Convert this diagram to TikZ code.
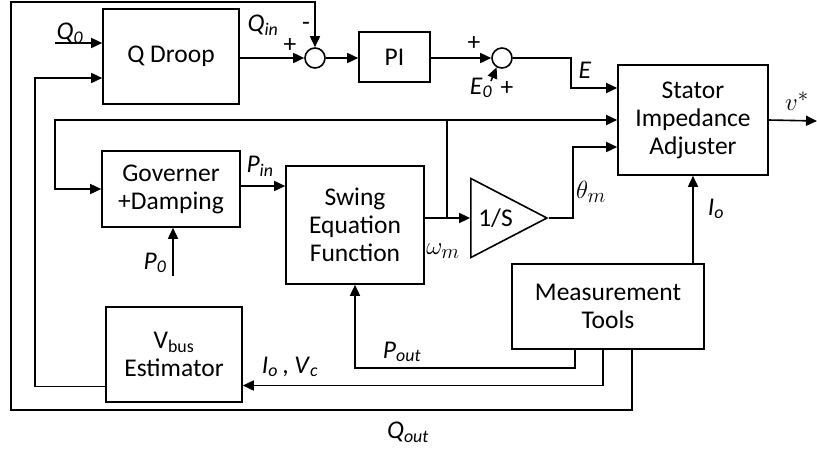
\documentclass[tikz,border=0pt]{standalone}
\usepackage{fontspec}
\setmainfont{Carlito}
\usetikzlibrary{arrows.meta, shapes.geometric}
\newcommand{\sig}[2]{\textit{#1}\textsubscript{\textit{#2}}}
\tikzset{
  block/.style={draw, line width=1.6pt, align=center, inner sep=2pt},
  sumpt/.style={draw, circle, line width=1.6pt, minimum size=20pt, inner sep=0pt},
  wire/.style={line width=1.6pt},
  arr/.style={line width=1.6pt, -{Triangle[length=11pt, width=10pt]}},
  lbl/.style={inner sep=0pt},
  mlbl/.style={inner sep=0pt, font=\fontsize{30}{34}\selectfont}
}

\begin{document}
\begin{tikzpicture}[x=1pt, y=-1pt, font=\fontsize{25.5}{28}\selectfont]
    \useasboundingbox (0,0) rectangle (817,448);
    \node[block, minimum width=136pt, minimum height=95pt] (qdroop) at (171,56.5) {Q Droop};
    \node[block, minimum width=71pt, minimum height=50pt] (pi) at (394.5,57) {PI};
    \node[sumpt] (sum1) at (315,58) {};
    \node[sumpt] (sum2) at (502,58) {};
    \node[block, minimum width=150pt, minimum height=110pt] (stator) at (693,120) {Stator\\Impedance\\Adjuster};
    \node[block, minimum width=138pt, minimum height=76pt] (gov) at (171,189) {Governer\\+Damping};
    \node[block, minimum width=138pt, minimum height=118pt] (swing) at (355,225) {Swing\\Equation\\Function};
    \node[draw, line width=1.6pt, isosceles triangle, isosceles triangle stretches,
          minimum width=79pt, minimum height=76pt, inner sep=0pt, anchor=apex] (integ) at (549,218) {1/S};
    \node[block, minimum width=192pt, minimum height=85pt] (meas) at (608,306.5) {Measurement\\Tools};
    \node[block, minimum width=136pt, minimum height=95pt] (vbus) at (174,354.5) {V\textsubscript{bus}\\Estimator};

    \coordinate (q0) at (55,43);
    \coordinate (e0) at (491,81);
    \coordinate (p0) at (173,276);
    \coordinate (wm) at (447,218);
    \coordinate (vout) at (817,121);

    % upper loop
    \draw[arr] (q0) -- (q0 -| qdroop.west);
    \draw[arr] (qdroop.east |- sum1.west) -- (sum1.west);
    \draw[arr] (sum1.east) -- (pi.west |- sum1.east);
    \draw[arr] (pi.east |- sum2.west) -- (sum2.west);
    \draw[arr] (e0) -- (sum2.-120);
    \draw[arr] (sum2.east) -| (571,88) -- ([yshift=32pt]stator.west);
    \draw[arr] (stator.east) -- (vout);

    % swing equation
    \draw[arr] (wm |- stator.west) -| (55,189) -- (gov.west);
    \draw[arr] (p0) -- (gov.south -| p0);
    \draw[arr] ([yshift=3pt]gov.east) -- ([yshift=3pt]gov.east -| swing.west);
    \draw[arr] (swing.east |- integ.west) -- (integ.west);
    \draw[arr] (wm) |- (stator.west);
    \draw[arr] (integ.apex) -| (573,147) -- ([yshift=-27pt]stator.west);
    \draw[arr] (stator.south |- meas.north) -- (stator.south);

    % feedback from measurement
    \draw[arr] ([xshift=-33pt]meas.south) |- (355,368) -- (swing.south);
    \draw[arr] ([xshift=-5pt]meas.south) |- ([yshift=-31pt]vbus.east);
    \draw[arr] ([yshift=-32pt]vbus.west) -| (35,78) -- (35,78 -| qdroop.west);
    \draw[arr] ([xshift=24pt]meas.south) |- (11,410) |- (315,2) -- (sum1.north);

    \node[lbl] (lq0) at (70,33) {\sig{Q}{0}};
    \node[lbl] (lqin) at (263,25) {\sig{Q}{in}};
    \node[lbl] (lp1) at (290,45) {+};
    \node[lbl] (lm1) at (306,26) {-};
    \node[lbl] (lp2) at (474,43) {+};
    \node[lbl] (le0) at (481,88) {\sig{E}{0}};
    \node[lbl] (lp3) at (507,88) {+};
    \node[lbl] (le) at (585,70) {\textit{E}};
    \node[mlbl] (lv) at (797,101) {$v^{*}$};
    \node[lbl] (lpin) at (260,166) {\sig{P}{in}};
    \node[lbl] (lp0) at (155,263) {\sig{P}{0}};
    \node[mlbl] (lwm) at (443,251) {$\omega_m$};
    \node[mlbl] (ltm) at (591,192) {$\theta_m$};
    \node[lbl] (lio) at (716,209) {\sig{I}{o}};
    \node[lbl] (lpout) at (402,352) {\sig{P}{out}};
    \node[lbl] (liv) at (290,367) {\sig{I}{o}\,, \sig{V}{c}};
    \node[lbl] (lqout) at (408,432) {\sig{Q}{out}};
\end{tikzpicture}
\end{document}
